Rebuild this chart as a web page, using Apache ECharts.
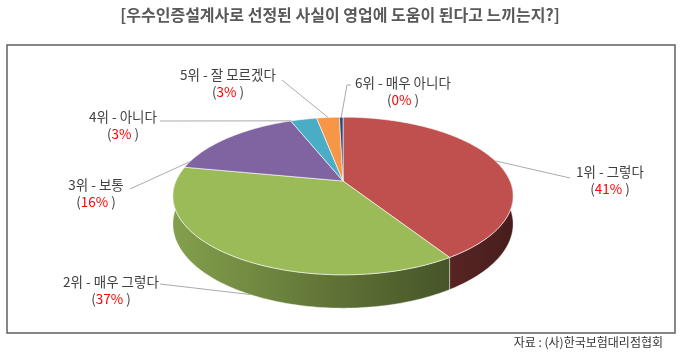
<!DOCTYPE html>
<html>
<head>
<meta charset="utf-8">
<script src="https://cdn.jsdelivr.net/npm/echarts@6/dist/echarts.min.js"></script>
<style>
html, body { margin: 0; padding: 0; background: #fff; }
#chart { width: 680px; height: 355px; }
</style>
</head>
<body>
<div id="chart"></div>
<script>
var titleText = '[우수인증설계사로 선정된 사실이 영업에 도움이 된다고 느끼는지?]';
var sourceText = '자료 : (사)한국보험대리점협회';
var categories = ['1위 - 그렇다', '2위 - 매우 그렇다', '3위 - 보통', '4위 - 아니다', '5위 - 잘 모르겠다', '6위 - 매우 아니다'];
var values = [41, 37, 16, 3, 2.6, 0.4];
var colors = ['#C0504D', '#9BBB59', '#8064A2', '#4BACC6', '#F79646', '#1F497D'];

// 라벨 위치 (text center, line start at text, point along slice, on side wall or top)
var labelPos = [
    {x: 610, y: 172, from: [570, 178], at: 0.5, side: 0},
    {x: 111, y: 282, from: [160, 284], at: 0.45, side: 1},
    {x: 96, y: 185, from: [130, 189], at: 0.08, side: 0},
    {x: 123, y: 117, from: [160, 121], at: 0.03, side: 0},
    {x: 228, y: 75, from: [282, 80], at: 0.5, side: 0},
    {x: 403, y: 83, from: [351, 85], bend: [347, 85], at: 0.5, side: 0}
];

// 3D 원판 모양
var geo = {cx: 343, cy: 181, rx: 167, ry: 76, p: 0.19, depth: 27};
var fontFamily = '"Noto Sans CJK KR", "Noto Sans", sans-serif';

var total = 0;
var starts = [];
for (var k = 0; k < values.length; k++) {
    starts.push(total);
    total += values[k];
}

function proj(deg, dz) {
    var t = deg * Math.PI / 180;
    var u = Math.sin(t), v = -Math.cos(t);
    var s = 1 / (1 - geo.p * v);
    return [geo.cx + geo.rx * u * s, geo.cy + (geo.ry * v + dz) * s];
}

function arc(a0, a1, dz) {
    var pts = [];
    var n = Math.max(2, Math.ceil((a1 - a0) / 1) + 1);
    for (var j = 0; j < n; j++) {
        pts.push(proj(a0 + (a1 - a0) * j / (n - 1), dz));
    }
    return pts;
}

function shade(hex, f) {
    var r = parseInt(hex.substr(1, 2), 16), g = parseInt(hex.substr(3, 2), 16), b = parseInt(hex.substr(5, 2), 16);
    return 'rgb(' + Math.round(r * f) + ',' + Math.round(g * f) + ',' + Math.round(b * f) + ')';
}

function renderSlice(params, api) {
    var i = params.dataIndex;
    var a0 = starts[i] / total * 360;
    var a1 = (starts[i] + api.value(0)) / total * 360;
    var color = colors[i];
    var children = [];

    // 옆면 (front half only)
    var w0 = Math.max(a0, 90), w1 = Math.min(a1, 270);
    if (w1 > w0) {
        var top = arc(w0, w1, 0);
        var bottom = arc(w0, w1, geo.depth).reverse();
        children.push({
            type: 'polygon',
            z2: 1,
            shape: {points: top.concat(bottom)},
            style: {
                fill: {
                    type: 'linear', global: true,
                    x: geo.cx - geo.rx * 1.05, y: 0, x2: geo.cx + geo.rx * 1.05, y2: 0,
                    colorStops: [
                        {offset: 0, color: shade(color, 0.86)},
                        {offset: 0.5, color: shade(color, 0.6)},
                        {offset: 1, color: shade(color, 0.36)}
                    ]
                },
                stroke: 'rgba(255,255,255,0.5)',
                lineWidth: 0.8
            }
        });
    }

    // 윗면
    children.push({
        type: 'polygon',
        z2: 5,
        shape: {points: [[geo.cx, geo.cy]].concat(arc(a0, a1, 0))},
        style: {fill: color, stroke: 'rgba(255,255,255,0.75)', lineWidth: 0.8}
    });

    // 라벨
    var lp = labelPos[i];
    var end = proj(a0 + (a1 - a0) * lp.at, lp.side ? geo.depth : 0);
    var linePts = [lp.from];
    if (lp.bend) linePts.push(lp.bend);
    linePts.push(end);
    children.push({
        type: 'polyline',
        z2: 8,
        shape: {points: linePts},
        style: {fill: null, stroke: '#ababab', lineWidth: 1}
    });

    var pct = Math.round(api.value(0) / total * 100) + '%';
    children.push({
        type: 'text',
        z2: 10,
        style: {
            text: categories[i],
            x: lp.x, y: lp.y,
            align: 'center', verticalAlign: 'middle',
            fontSize: 13.5, fontFamily: fontFamily,
            fill: '#404040'
        }
    });
    children.push({
        type: 'text',
        z2: 10,
        style: {
            text: '{d|(}{r|' + pct + '}{d| )}',
            x: lp.x, y: lp.y + 17,
            align: 'center', verticalAlign: 'middle',
            fontSize: 13.5, fontFamily: fontFamily,
            fill: '#404040',
            rich: {
                d: {fill: '#404040', fontSize: 13.5, fontFamily: fontFamily},
                r: {fill: '#FF0000', fontSize: 13.5, fontFamily: fontFamily}
            }
        }
    });

    return {type: 'group', children: children};
}

var chart = echarts.init(document.getElementById('chart'));
var option = {
    backgroundColor: '#fff',
    animation: false,
    title: [
        {
            text: titleText,
            left: 'center',
            top: 2,
            textStyle: {fontSize: 16, fontWeight: 'bold', color: '#595959', fontFamily: fontFamily}
        },
        {
            text: sourceText,
            right: 12,
            bottom: 2,
            textStyle: {fontSize: 12, fontWeight: 'normal', color: '#333', fontFamily: fontFamily}
        }
    ],
    graphic: [
        {
            type: 'rect',
            shape: {x: 7, y: 45, width: 668, height: 288},
            style: {fill: 'none', stroke: '#606060', lineWidth: 1.5},
            silent: true
        }
    ],
    series: [
        {
            type: 'custom',
            coordinateSystem: 'none',
            silent: true,
            renderItem: renderSlice,
            data: values
        }
    ]
};
chart.setOption(option);
</script>
</body>
</html>
